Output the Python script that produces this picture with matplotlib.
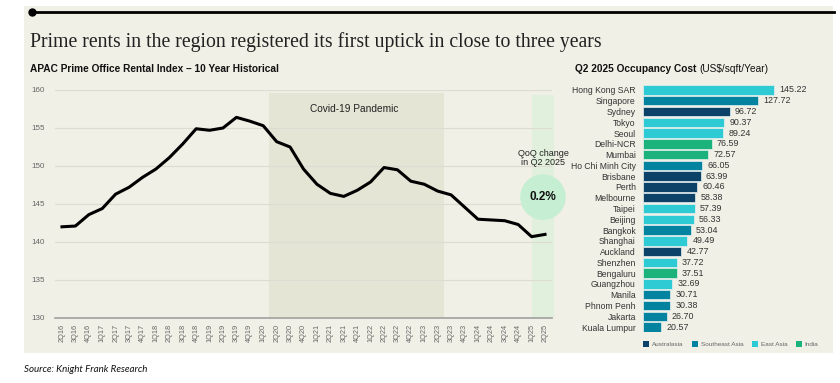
import numpy as np
import matplotlib
matplotlib.use("Agg")
import matplotlib.pyplot as plt
from matplotlib.patches import Rectangle, Patch
from matplotlib.lines import Line2D

# ---- data ----
quarters = ['2Q16', '3Q16', '4Q16', '1Q17', '2Q17', '3Q17', '4Q17', '1Q18', '2Q18', '3Q18',
            '4Q18', '1Q19', '2Q19', '3Q19', '4Q19', '1Q20', '2Q20', '3Q20', '4Q20', '1Q21',
            '2Q21', '3Q21', '4Q21', '1Q22', '2Q22', '3Q22', '4Q22', '1Q23', '2Q23', '3Q23',
            '4Q23', '1Q24', '2Q24', '3Q24', '4Q24', '1Q25', '2Q25']
rent_index = [142.0, 142.1, 143.6, 144.4, 146.3, 147.2, 148.5, 149.6, 151.1, 152.9,
              154.9, 154.7, 155.0, 156.4, 155.9, 155.3, 153.2, 152.5, 149.6, 147.6,
              146.4, 146.0, 146.8, 147.9, 149.8, 149.5, 148.0, 147.6, 146.7, 146.2,
              144.6, 143.0, 142.9, 142.8, 142.3, 140.7, 141.0]

cities = ['Hong Kong SAR', 'Singapore', 'Sydney', 'Tokyo', 'Seoul', 'Delhi-NCR', 'Mumbai',
          'Ho Chi Minh City', 'Brisbane', 'Perth', 'Melbourne', 'Taipei', 'Beijing', 'Bangkok',
          'Shanghai', 'Auckland', 'Shenzhen', 'Bengaluru', 'Guangzhou', 'Manila',
          'Phnom Penh', 'Jakarta', 'Kuala Lumpur']
cost = [145.22, 127.72, 96.72, 90.37, 89.24, 76.59, 72.57, 66.05, 63.99, 60.46, 58.38,
        57.39, 56.33, 53.04, 49.49, 42.77, 37.72, 37.51, 32.69, 30.71, 30.38, 26.70, 20.57]
region = ['East Asia', 'Southeast Asia', 'Australasia', 'East Asia', 'East Asia', 'India',
          'India', 'Southeast Asia', 'Australasia', 'Australasia', 'Australasia', 'East Asia',
          'East Asia', 'Southeast Asia', 'East Asia', 'Australasia', 'East Asia', 'India',
          'East Asia', 'Southeast Asia', 'Southeast Asia', 'Southeast Asia', 'Southeast Asia']
region_names = ['Australasia', 'Southeast Asia', 'East Asia', 'India']
region_colors = ['#0c4268', '#03839f', '#2ecbd4', '#1bb27b']

qoq_change = '0.2%'

# ---- figure ----
W, H = 840, 383
fig = plt.figure(figsize=(W / 100, H / 100), dpi=100)
fig.patch.set_facecolor('white')

def box(x0, y0, x1, y1):
    # pixel box (top-left origin) -> figure fraction rect
    return [x0 / W, 1 - y1 / H, (x1 - x0) / W, (y1 - y0) / H]

bg = '#f1f0e6'
fig.add_artist(Rectangle((24 / W, 1 - 353 / H), (833 - 24) / W, (353 - 6) / H,
                         transform=fig.transFigure, facecolor=bg, edgecolor='none', zorder=0))
fig.add_artist(Line2D([31 / W, 834 / W], [1 - 12 / H, 1 - 12 / H], color='black', lw=2,
                      transform=fig.transFigure))
fig.add_artist(Line2D([32 / W], [1 - 12 / H], marker='o', ms=5, color='black',
                      transform=fig.transFigure))

fig.text(30 / W, 1 - 42 / H, 'Prime rents in the region registered its first uptick in close to three years',
         family='Liberation Serif', fontsize=14.2, color='#222222', va='center')
fig.text(30 / W, 1 - 69 / H, 'APAC Prime Office Rental Index \u2013 10 Year Historical',
         family='Liberation Sans', fontsize=7.3, fontweight='bold', color='#111111', va='center')
t = fig.text(575 / W, 1 - 69 / H, 'Q2 2025 Occupancy Cost ', family='Liberation Sans',
             fontsize=7.3, fontweight='bold', color='#111111', va='center')
fig.canvas.draw()
bb = t.get_window_extent()
fig.text(bb.x1 / W, 1 - 69 / H, '(US$/sqft/Year)', family='Liberation Sans',
         fontsize=7.3, color='#111111', va='center')
fig.text(24 / W, 1 - 369 / H, 'Source: Knight Frank Research', family='Lato',
         fontsize=7, style='italic', color='#111111', va='center')

# ---- line chart ----
ax = fig.add_axes(box(55, 90, 552, 318))
ax.set_facecolor('none')
x = np.arange(len(quarters))
ax.axvspan(15.45, 28.5, ymax=0.987, color='#e5e5d6', lw=0, zorder=0)
ax.axvspan(35.0, 36.7, ymax=0.98, color='#e1f0dc', lw=0, zorder=0, clip_on=False)
ax.plot(x, rent_index, color='black', lw=2.2, zorder=3, solid_joinstyle='round')
ax.set_xlim(-0.52, 36.52)
ax.set_ylim(130, 160)
ax.set_yticks(range(130, 161, 5))
ax.set_xticks(x)
ax.set_xticklabels(quarters, rotation=90, fontsize=5.3, color='#666666', family='Liberation Sans')
ax.tick_params(axis='y', length=0, pad=7, labelsize=5.8, labelcolor='#666666')
ax.tick_params(axis='x', length=0, pad=4)
for lbl in ax.get_yticklabels():
    lbl.set_family('Liberation Sans')
ax.grid(axis='y', color='#dcdcd2', lw=0.8, zorder=1)
for s in ['left', 'right', 'top']:
    ax.spines[s].set_visible(False)
ax.spines['bottom'].set_color('#a0a0a0')
ax.spines['bottom'].set_linewidth(1.2)
ax.text(18.5, 157.5, 'Covid-19 Pandemic', fontsize=7.3, color='#222222',
        family='Liberation Sans', va='center')
ax.scatter([35.85], [145.9], s=1080, color='#c6eed2', edgecolors='none', zorder=2, clip_on=False)
ax.text(35.85, 145.9, qoq_change, fontsize=8.5, fontweight='bold', ha='center', va='center',
        family='Liberation Sans', color='#111111', zorder=4)
ax.text(35.85, 151.1, 'QoQ change\nin Q2 2025', fontsize=6.5, ha='center', va='center',
        family='Liberation Sans', color='#222222', linespacing=1.0)

# ---- bar chart ----
bx = fig.add_axes(box(642.7, 84.6, 787.3, 332.4))
bx.set_facecolor('none')
y = np.arange(len(cities))
cmap = dict(zip(region_names, region_colors))
bx.barh(y, cost, height=0.87, color=[cmap[r] for r in region], edgecolor='#e6f1f0', lw=0.5)
for yi, v in zip(y, cost):
    bx.text(v + 5.5, yi, f'{v:.2f}', va='center', ha='left', fontsize=6.4,
            color='#333333', family='Liberation Sans')
bx.set_xlim(0, 160)
bx.set_ylim(len(cities) - 0.5, -0.5)
bx.set_yticks(y)
bx.set_yticklabels(cities, fontsize=6.2, color='#333333', family='Liberation Sans')
bx.tick_params(axis='y', length=0, pad=5)
bx.set_xticks([])
for s in bx.spines.values():
    s.set_visible(False)

handles = [Patch(facecolor=c, edgecolor='none', label=n) for n, c in zip(region_names, region_colors)]
leg = fig.legend(handles=handles, loc='center left', bbox_to_anchor=(643 / W, 1 - 344 / H),
                 ncol=4, frameon=False, fontsize=4.6, handlelength=1.0, handleheight=1.0,
                 handletextpad=0.4, columnspacing=1.3, borderaxespad=0, borderpad=0)
for tx in leg.get_texts():
    tx.set_color('#666666')
    tx.set_family('Liberation Sans')

fig.savefig('out.png', dpi=100, facecolor='white')
